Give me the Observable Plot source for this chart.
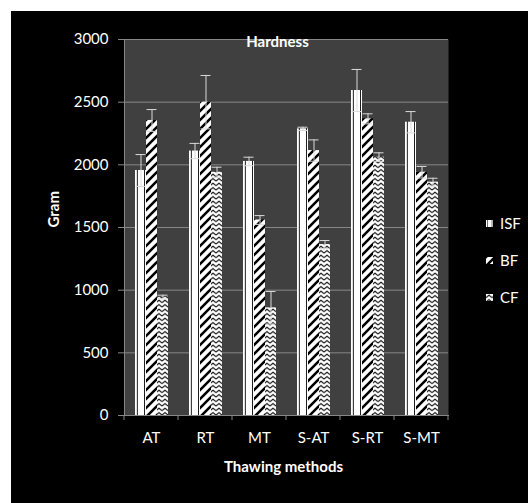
<!DOCTYPE html>
<html><head><meta charset="utf-8">
<script src="https://cdn.jsdelivr.net/npm/d3@7"></script>
<script src="https://cdn.jsdelivr.net/npm/@observablehq/plot@0.6"></script>
<style>
html,body{margin:0;padding:0;background:#fff;}
#wrap{position:absolute;left:11px;top:11px;width:517px;height:492px;background:#000;}
.leg{position:absolute;left:486px;height:18px;display:flex;align-items:center;font:15px Lato, sans-serif;color:#fff;}
.leg svg{margin-right:7px;}
</style></head><body>
<div id="wrap"></div>
<div id="legend"></div>
<script>
const categories = ["AT", "RT", "MT", "S-AT", "S-RT", "S-MT"];
const seriesNames = ["ISF", "BF", "CF"];
const isf = [1955, 2110, 2027, 2287, 2593, 2340];
const isfErr = [127, 61, 34, 13, 168, 85];
const bf = [2354, 2500, 1560, 2114, 2367, 1941];
const bfErr = [87, 213, 35, 85, 40, 46];
const cf = [945, 1941, 859, 1364, 2061, 1862];
const cfErr = [15, 40, 130, 32, 35, 31];
const yTicks = [0, 500, 1000, 1500, 2000, 2500, 3000];

const rows = [];
categories.forEach((c, i) => {
  rows.push({cat: c, series: "ISF", value: isf[i], err: isfErr[i]});
  rows.push({cat: c, series: "BF", value: bf[i], err: bfErr[i]});
  rows.push({cat: c, series: "CF", value: cf[i], err: cfErr[i]});
});

const gray = "#878787";
const errColor = "#d9d9d9";

const plot = Plot.plot({
  width: 517, height: 492,
  marginLeft: 112, marginRight: 79, marginTop: 28, marginBottom: 88,
  style: {background: "#000", color: "#fff", fontFamily: "Lato, sans-serif", fontSize: "15px", overflow: "visible"},
  fx: {domain: categories, padding: 0, label: null},
  x: {domain: seriesNames, paddingInner: 0, paddingOuter: 0.77, axis: null},
  y: {domain: [0, 3000], label: null},
  color: {domain: seriesNames, range: ["url(#pat-isf)", "url(#pat-bf)", "url(#pat-cf)"]},
  marks: [
    Plot.frame({fill: "#404040", stroke: null, facet: "super"}),
    Plot.gridY(yTicks, {stroke: gray, strokeOpacity: 1}),
    Plot.barY(rows, {fx: "cat", x: "series", y: "value", fill: "series"}),
    Plot.ruleX(rows, {fx: "cat", x: "series", y1: d => d.value - d.err, y2: d => d.value + d.err, stroke: errColor}),
    Plot.tickY(rows, {fx: "cat", x: "series", y: d => d.value + d.err, stroke: errColor, insetLeft: 0.5, insetRight: 0.5}),
    Plot.tickY(rows, {fx: "cat", x: "series", y: d => d.value - d.err, stroke: errColor, insetLeft: 0.5, insetRight: 0.5}),
    Plot.frame({anchor: "bottom", stroke: gray}),
    Plot.frame({anchor: "left", stroke: gray, facetAnchor: "left"}),
    Plot.axisY({ticks: yTicks, tickSize: 6, tickPadding: 10, stroke: gray, color: "#fff", label: null, tickFormat: d3.format("d"), fontSize: 15}),
    Plot.axisFx({anchor: "bottom", tickSize: 0, tickPadding: 17, label: null, color: "#fff", fontSize: 15}),
    Plot.text(["Hardness"], {text: d => d, facet: "super", frameAnchor: "top", dx: -9, dy: 3, lineAnchor: "middle", fill: "#fff", fontWeight: "bold", fontSize: 15}),
    Plot.text(["Gram"], {text: d => d, facet: "super", frameAnchor: "left", dx: -70, rotate: -90, fill: "#fff", fontWeight: "bold", fontSize: 15}),
    Plot.text(["Thawing methods"], {text: d => d, facet: "super", frameAnchor: "bottom", dx: -3, dy: 52, lineAnchor: "middle", fill: "#fff", fontWeight: "bold", fontSize: 15})
  ]
});

const defs = `
<pattern id="pat-isf" patternUnits="objectBoundingBox" patternContentUnits="objectBoundingBox" width="1" height="1">
  <rect width="1" height="1" fill="#fff"/>
  <rect x="0.17" y="0" width="0.08" height="1" fill="#000"/>
  <rect x="0.82" y="0" width="0.08" height="1" fill="#000"/>
</pattern>
<pattern id="pat-bf" patternUnits="userSpaceOnUse" width="9" height="9">
  <rect width="9" height="9" fill="#fff"/>
  <path d="M-2,11 L11,-2 M-2,2 L2,-2 M7,11 L11,7" stroke="#000" stroke-width="2.6"/>
</pattern>
<pattern id="pat-cf" patternUnits="userSpaceOnUse" width="6" height="4.5">
  <rect width="6" height="4.5" fill="#fff"/>
  <path d="M0,3.6 L3,1.1 L6,3.6" stroke="#000" stroke-width="1" fill="none"/>
</pattern>`;
d3.select(plot).insert("defs", ":first-child").html(defs);

// x-axis boundary ticks from the fx and y scales
const fxs = plot.scale("fx");
const ys = plot.scale("y");
const y0 = ys.apply(0);
const bounds = categories.map(c => fxs.apply(c)).concat([fxs.apply(categories[categories.length - 1]) + fxs.bandwidth]);
d3.select(plot).append("g").selectAll("line").data(bounds).join("line")
  .attr("x1", d => d).attr("x2", d => d).attr("y1", y0).attr("y2", y0 + 5)
  .attr("stroke", gray);

document.getElementById("wrap").appendChild(plot);

// legend
const legendY = [223, 260, 297];
const leg = document.getElementById("legend");
seriesNames.forEach((s, i) => {
  const div = document.createElement("div");
  div.className = "leg";
  div.style.top = (legendY[i] - 9) + "px";
  div.innerHTML = `<svg width="7" height="7"><rect width="7" height="7" fill="url(#pat-${s.toLowerCase()})"/></svg><span>${s}</span>`;
  leg.appendChild(div);
});
</script>
</body></html>
